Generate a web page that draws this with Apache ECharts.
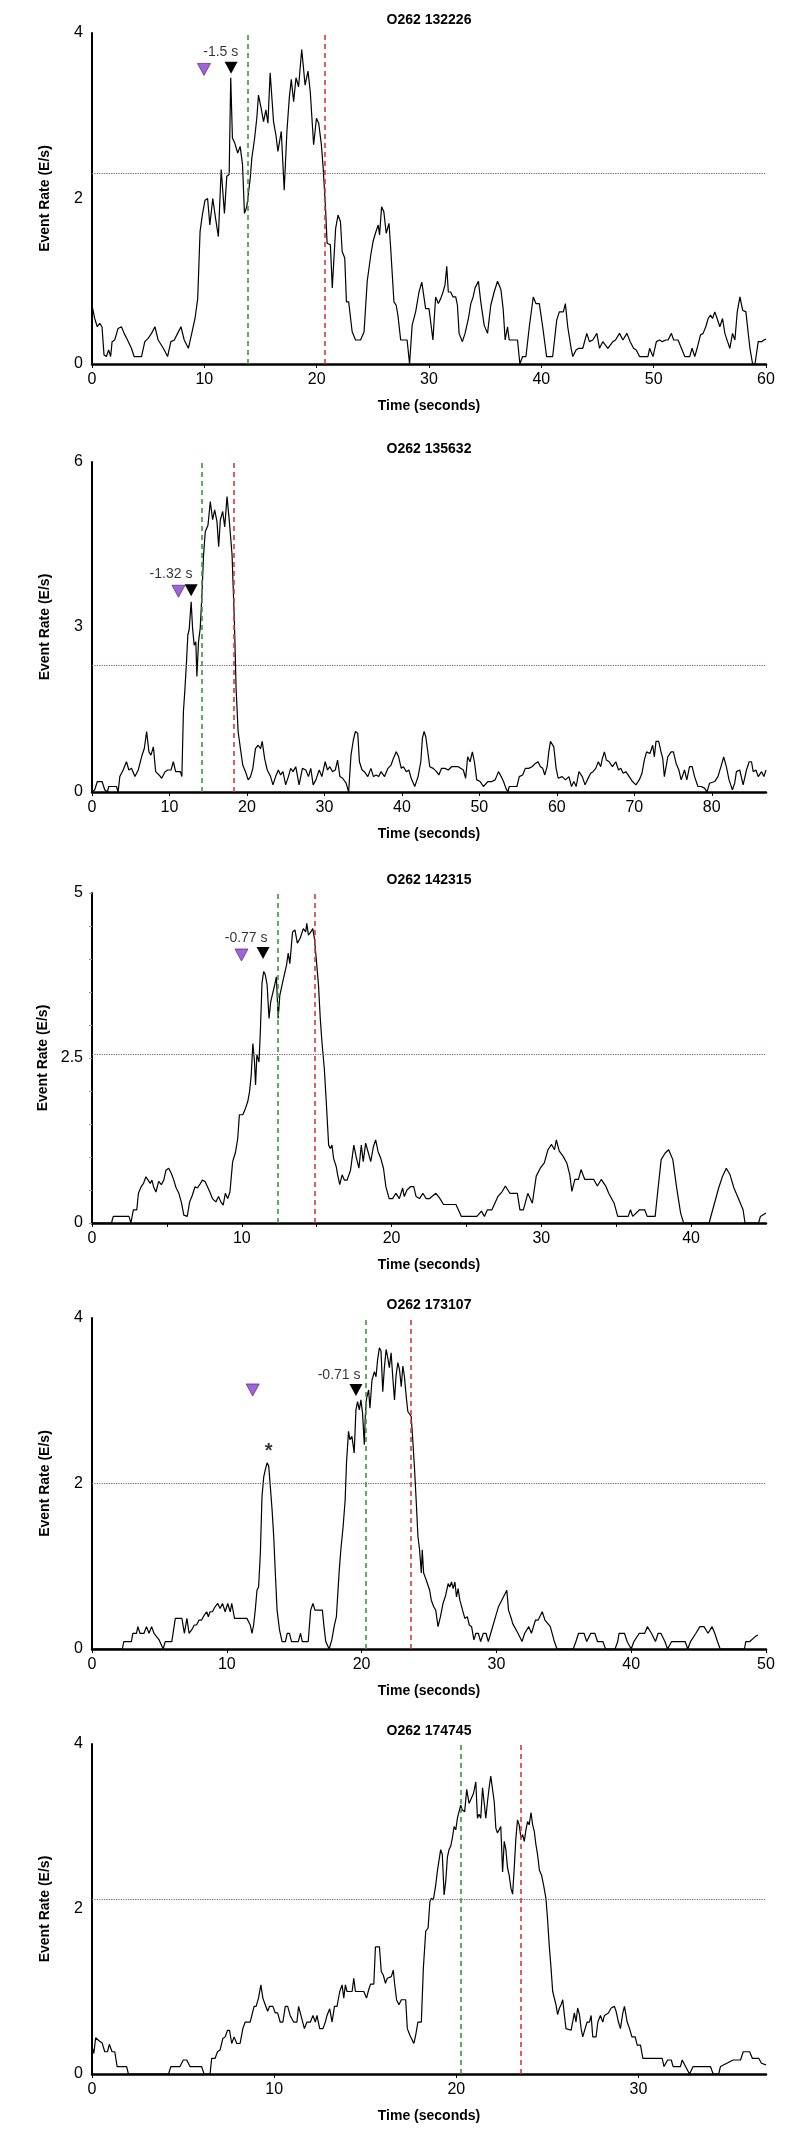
<!DOCTYPE html>
<html>
<head>
<meta charset="utf-8">
<script src="https://cdn.jsdelivr.net/npm/echarts@6/dist/echarts.min.js"></script>
<style>
html,body{margin:0;padding:0;background:#fff;}
#chart{width:796px;height:2147px;}
</style>
</head>
<body>
<div id="chart"></div>
<script>
// ---------- data ----------
const titles = ['O262 132226', 'O262 135632', 'O262 142315', 'O262 173107', 'O262 174745'];
const xMax = [60, 87, 45, 50, 37];
const yMax = [4, 6, 5, 4, 4];
const yStep = [2, 3, 2.5, 2, 2];
const thresholds = [2.3, 2.31, 2.56, 2.0, 2.12];
const greenLines = [13.9, 14.2, 12.38, 20.3, 20.25];
const redLines = [20.7, 18.35, 14.85, 23.65, 23.55];
const purpleMarks = [[9.97, 3.56], [11.16, 3.65], [9.98, 4.06], [11.92, 3.13], null];
const blackMarks = [[12.38, 3.58], [12.8, 3.67], [11.42, 4.09], [19.58, 3.13], null];
const lagLabels = [[11.46, 3.77, '-1.5 s'], [10.2, 3.96, '-1.32 s'], [10.29, 4.31, '-0.77 s'], [18.33, 3.31, '-0.71 s'], null];
const asteriskMarks = [null, null, null, [13.11, 2.39, '*'], null];

const rate132226 = [[0,0.71],[0.24,0.55],[0.47,0.45],[0.69,0.49],[0.89,0.45],[1.07,0.11],[1.28,0.09],[1.48,0.17],[1.66,0.09],[1.79,0.27],[2.02,0.29],[2.32,0.43],[2.62,0.45],[2.86,0.37],[3.16,0.29],[3.51,0.19],[3.75,0.09],[4.41,0.09],[4.7,0.27],[5.0,0.31],[5.3,0.37],[5.6,0.45],[5.89,0.29],[6.35,0.19],[6.73,0.09],[7.02,0.27],[7.33,0.29],[7.62,0.37],[7.92,0.45],[8.21,0.29],[8.58,0.19],[8.88,0.37],[9.17,0.55],[9.41,0.79],[9.62,1.6],[9.82,1.8],[10.06,1.98],[10.29,2.0],[10.49,1.68],[10.75,2.0],[11.0,1.76],[11.25,1.54],[11.5,2.35],[11.79,1.82],[12.0,2.27],[12.21,2.29],[12.35,3.46],[12.5,2.73],[12.71,2.67],[12.97,2.55],[13.19,2.63],[13.4,2.41],[13.57,1.82],[13.78,1.9],[14.09,2.25],[14.23,2.49],[14.46,2.71],[14.67,2.97],[14.82,3.25],[15.06,3.09],[15.27,2.93],[15.48,3.07],[15.66,2.91],[15.86,3.52],[16.16,2.93],[16.37,2.77],[16.55,2.57],[16.85,2.81],[17.11,2.1],[17.35,2.81],[17.56,3.21],[17.74,3.44],[17.95,3.17],[18.16,3.46],[18.39,3.35],[18.67,3.8],[18.97,3.37],[19.23,3.54],[19.43,3.29],[19.73,2.65],[19.98,2.97],[20.18,2.91],[20.42,2.65],[20.58,2.37],[20.79,1.88],[20.93,1.46],[21.22,1.44],[21.39,0.92],[21.69,1.64],[21.9,1.8],[22.12,1.72],[22.27,1.36],[22.5,1.28],[22.65,0.75],[22.85,0.75],[23.16,0.39],[23.46,0.29],[23.91,0.29],[24.22,0.39],[24.5,1.0],[24.82,1.32],[25.02,1.48],[25.23,1.58],[25.48,1.68],[25.6,1.56],[25.78,1.9],[25.98,1.84],[26.19,1.58],[26.44,1.7],[26.58,1.42],[26.88,0.75],[27.08,0.71],[27.23,0.59],[27.48,0.29],[28.05,0.29],[28.27,0],[28.5,0.47],[28.81,0.63],[29.11,0.87],[29.36,0.99],[29.7,0.67],[30.0,0.67],[30.35,0.29],[30.59,0.81],[30.83,0.73],[31.04,0.79],[31.25,0.87],[31.43,0.96],[31.58,1.18],[31.72,0.87],[31.93,0.87],[32.14,0.81],[32.38,0.81],[32.53,0.71],[32.68,0.37],[32.97,0.27],[33.21,0.37],[33.51,0.55],[33.72,0.73],[33.93,0.81],[34.1,0.92],[34.4,1.0],[34.61,0.75],[34.91,0.47],[35.21,0.37],[35.5,0.71],[35.8,0.87],[36.1,1.0],[36.4,0.9],[36.6,0.67],[36.78,0.29],[36.99,0.45],[37.14,0.29],[37.88,0.29],[38.09,0],[38.33,0.09],[38.63,0.09],[38.93,0.45],[39.28,0.81],[39.52,0.73],[39.82,0.73],[40.12,0.45],[40.47,0.09],[41.01,0.09],[41.37,0.53],[41.6,0.63],[41.96,0.63],[42.14,0.73],[42.35,0.45],[42.65,0.19],[42.8,0.09],[43.09,0.17],[43.33,0.19],[43.69,0.19],[44.05,0.37],[44.28,0.27],[44.58,0.29],[44.94,0.37],[45.18,0.19],[45.47,0.27],[45.92,0.19],[46.37,0.27],[46.6,0.29],[46.96,0.37],[47.26,0.29],[47.62,0.37],[47.91,0.27],[48.21,0.19],[48.45,0.17],[48.75,0.09],[49.49,0.09],[49.64,0.19],[49.94,0.09],[50.24,0.27],[50.53,0.29],[50.77,0.27],[51.07,0.29],[51.28,0.29],[51.58,0.37],[51.78,0.29],[52.17,0.29],[52.47,0.19],[52.77,0.09],[53.21,0.09],[53.42,0.19],[53.66,0.09],[53.87,0.19],[54.16,0.35],[54.4,0.37],[54.64,0.45],[54.85,0.55],[55.06,0.59],[55.24,0.55],[55.44,0.63],[55.65,0.55],[55.89,0.45],[56.13,0.55],[56.34,0.37],[56.58,0.27],[56.78,0.19],[57.02,0.37],[57.23,0.29],[57.44,0.63],[57.68,0.81],[57.92,0.65],[58.21,0.63],[58.42,0.37],[58.57,0.19],[58.81,0],[59.02,0],[59.31,0.27],[59.61,0.27],[59.82,0.29],[60,0.3]];

const rate135632 = [[0,0],[0.35,0.04],[0.69,0.19],[1.3,0.19],[1.64,0.04],[1.99,0],[2.16,0.1],[3.16,0.1],[3.37,0],[3.59,0.28],[4.02,0.4],[4.45,0.55],[4.76,0.4],[5.1,0.43],[5.54,0.28],[5.97,0.4],[6.4,0.64],[6.75,0.79],[7.05,1.1],[7.35,0.73],[7.61,0.67],[7.92,0.82],[8.22,0.37],[8.65,0.31],[9.0,0.25],[9.43,0.37],[9.78,0.4],[10.2,0.4],[10.5,0.55],[10.8,0.37],[11.4,0.37],[11.6,0.28],[11.8,1.46],[12.0,1.88],[12.2,2.37],[12.37,2.85],[12.54,2.95],[12.8,3.46],[12.98,2.98],[13.19,2.67],[13.4,2.73],[13.54,2.1],[13.75,2.73],[13.97,2.98],[14.19,3.58],[14.4,4.31],[14.62,4.73],[14.97,4.85],[15.27,5.28],[15.57,4.95],[15.83,5.13],[16.13,4.92],[16.35,4.46],[16.57,4.95],[16.87,5.1],[17.13,4.82],[17.43,5.37],[17.73,4.92],[18.08,4.31],[18.38,3.1],[18.6,1.88],[18.86,1.1],[19.16,0.79],[19.46,0.49],[19.81,0.37],[20.16,0.22],[20.46,0.28],[20.76,0.43],[21.1,0.79],[21.45,0.85],[21.76,0.79],[21.97,0.92],[22.28,0.61],[22.62,0.4],[23.05,0.28],[23.36,0.13],[23.7,0.28],[24.05,0.4],[24.35,0.31],[24.65,0.37],[25.0,0.13],[25.35,0.28],[25.65,0.43],[25.95,0.37],[26.3,0.46],[26.73,0.13],[27.16,0.43],[27.6,0.4],[27.94,0.28],[28.24,0.43],[28.55,0.13],[28.9,0.22],[29.33,0.4],[29.67,0.28],[30.1,0.55],[30.4,0.4],[30.7,0.46],[31.05,0.37],[31.4,0.4],[31.7,0.58],[32.0,0.28],[32.35,0.25],[32.8,0.16],[33.13,0],[33.43,0.67],[33.74,0.95],[34.0,1.1],[34.3,1.07],[34.52,0.55],[34.86,0.4],[35.16,0.37],[35.6,0.28],[36.0,0.43],[36.33,0.28],[36.68,0.31],[37.0,0.28],[37.3,0.37],[37.76,0.28],[38.2,0.43],[38.6,0.49],[38.9,0.61],[39.27,0.73],[39.58,0.64],[39.92,0.43],[40.2,0.46],[40.57,0.37],[40.9,0.4],[41.2,0.25],[41.66,0.1],[42.09,0.28],[42.44,0.55],[42.65,0.98],[42.87,1.1],[43.09,1.0],[43.3,1.0],[43.6,0.46],[44.04,0.43],[44.47,0.37],[44.77,0.31],[45.12,0.43],[45.55,0.43],[45.99,0.4],[46.42,0.46],[47.28,0.46],[47.93,0.4],[48.23,0.25],[48.49,0.64],[48.8,0.55],[49.1,0.73],[49.36,0.55],[49.66,0.22],[50.1,0.19],[50.53,0.1],[51.09,0.19],[51.61,0.19],[52.04,0.22],[52.47,0.37],[52.82,0.28],[53.12,0.19],[53.42,0.07],[53.68,0],[53.86,0.1],[54.85,0.1],[55.15,0.28],[55.59,0.31],[55.93,0.43],[56.37,0.43],[56.8,0.46],[57.23,0.52],[57.58,0.55],[57.88,0.46],[58.18,0.43],[58.44,0.31],[58.75,0.46],[58.96,0.73],[59.18,0.92],[59.61,0.82],[59.91,0.43],[60.17,0.25],[60.69,0.28],[61.12,0.22],[61.56,0.28],[61.9,0.1],[62.2,0.19],[62.5,0.1],[62.85,0.37],[63.29,0.28],[63.64,0.13],[63.93,0.22],[64.37,0.34],[64.67,0.37],[65.02,0.43],[65.36,0.55],[65.66,0.46],[65.88,0.61],[66.14,0.73],[66.4,0.58],[66.75,0.55],[67.18,0.46],[67.61,0.55],[67.96,0.4],[68.26,0.43],[68.56,0.34],[68.91,0.37],[69.34,0.28],[69.77,0.19],[70.21,0.13],[70.64,0.22],[70.99,0.34],[71.29,0.58],[71.59,0.73],[72.02,0.7],[72.37,0.85],[72.59,0.64],[72.8,0.92],[73.15,0.92],[73.45,0.73],[73.67,0.61],[73.88,0.28],[74.32,0.64],[74.75,0.73],[75.05,0.73],[75.4,0.52],[75.75,0.4],[76.05,0.22],[76.48,0.4],[76.78,0.22],[77.13,0.46],[77.47,0.46],[77.78,0.28],[78.21,0.1],[78.64,0.1],[79.07,0.07],[79.38,0],[79.72,0.16],[80.37,0.19],[80.8,0.28],[81.24,0.49],[81.54,0.64],[81.88,0.46],[82.23,0.22],[82.66,0.04],[82.96,0.16],[83.18,0.37],[83.61,0.4],[84.05,0.13],[84.48,0.4],[84.83,0.55],[85.13,0.55],[85.35,0.37],[85.7,0.4],[86.0,0.28],[86.43,0.37],[86.73,0.28],[87,0.4]];

const rate142315 = [[0,0],[1.3,0],[1.42,0.1],[2.47,0.1],[2.6,0],[2.76,0.2],[2.99,0.2],[3.1,0.45],[3.28,0.55],[3.44,0.6],[3.6,0.7],[3.73,0.73],[3.89,0.6],[4.0,0.65],[4.11,0.55],[4.27,0.47],[4.45,0.63],[4.63,0.58],[4.79,0.65],[4.94,0.8],[5.12,0.83],[5.3,0.75],[5.46,0.65],[5.62,0.53],[5.8,0.45],[5.98,0.3],[6.13,0.12],[6.36,0.1],[6.52,0.32],[6.7,0.42],[6.88,0.55],[7.03,0.53],[7.19,0.58],[7.37,0.65],[7.55,0.63],[7.71,0.55],[7.87,0.47],[8.04,0.37],[8.27,0.32],[8.45,0.4],[8.6,0.32],[8.76,0.27],[8.9,0.45],[9.06,0.37],[9.21,0.47],[9.39,0.93],[9.57,1.06],[9.73,1.28],[9.84,1.64],[10.07,1.64],[10.25,1.74],[10.4,1.84],[10.52,1.99],[10.63,2.24],[10.74,2.72],[10.85,2.44],[10.92,2.09],[11.01,2.55],[11.15,2.44],[11.24,2.9],[11.35,3.63],[11.46,3.81],[11.57,3.76],[11.69,3.61],[11.82,3.1],[11.93,3.35],[12.04,3.38],[12.2,3.61],[12.31,3.73],[12.43,3.1],[12.54,3.45],[12.65,3.48],[12.76,3.68],[12.88,3.68],[12.99,3.91],[13.1,4.09],[13.21,3.93],[13.39,4.41],[13.55,4.44],[13.71,4.24],[13.89,4.31],[14.0,4.31],[14.11,4.46],[14.27,4.41],[14.34,4.54],[14.45,4.36],[14.61,4.41],[14.74,4.46],[14.85,4.31],[14.97,4.01],[15.12,3.61],[15.24,3.1],[15.35,2.75],[15.51,2.34],[15.64,1.84],[15.8,1.18],[15.91,1.13],[16.02,1.18],[16.13,0.98],[16.31,0.85],[16.4,0.73],[16.54,0.58],[16.7,0.73],[16.85,0.65],[17.03,0.65],[17.26,0.8],[17.48,1.18],[17.66,0.98],[17.82,0.83],[17.98,1.18],[18.11,0.93],[18.27,1.21],[18.43,1.08],[18.61,0.93],[18.79,1.16],[18.94,1.26],[19.1,1.08],[19.28,0.98],[19.46,0.83],[19.62,0.55],[19.84,0.37],[20.07,0.37],[20.29,0.45],[20.52,0.37],[20.74,0.53],[20.85,0.4],[21.03,0.5],[21.26,0.55],[21.48,0.55],[21.64,0.4],[21.87,0.37],[22.09,0.45],[22.31,0.37],[22.54,0.37],[22.96,0.45],[23.2,0.38],[23.47,0.28],[24.3,0.28],[24.66,0.1],[25.7,0.1],[26.0,0.18],[26.2,0.1],[26.4,0.2],[26.7,0.2],[26.9,0.3],[27.1,0.4],[27.4,0.48],[27.6,0.56],[27.9,0.45],[28.4,0.45],[28.57,0.2],[28.8,0.2],[29.1,0.45],[29.4,0.3],[29.66,0.71],[29.93,0.83],[30.2,0.91],[30.44,1.11],[30.68,1.19],[30.88,1.11],[31.0,1.26],[31.2,1.09],[31.46,1.01],[31.7,0.91],[31.9,0.73],[32.04,0.48],[32.24,0.66],[32.48,0.66],[32.65,0.81],[32.9,0.66],[33.5,0.66],[33.74,0.56],[34.0,0.66],[34.3,0.56],[34.5,0.45],[34.86,0.3],[35.1,0.1],[35.8,0.1],[35.95,0.2],[36.1,0.1],[36.56,0.2],[36.9,0.2],[37.07,0.1],[37.6,0.1],[37.76,0.45],[38.0,0.96],[38.27,1.06],[38.5,1.11],[38.78,0.96],[39.05,0.51],[39.3,0.15],[39.5,0],[41.2,0],[41.5,0.25],[41.84,0.53],[42.1,0.71],[42.35,0.83],[42.6,0.73],[42.86,0.53],[43.2,0.35],[43.47,0.2],[43.6,0],[44.5,0],[44.63,0.1],[45,0.15]];

const rate173107 = [[0,0],[2.25,0],[2.36,0.09],[2.92,0.09],[3.03,0.19],[3.3,0.19],[3.4,0.27],[3.56,0.19],[3.86,0.19],[4.04,0.27],[4.23,0.19],[4.42,0.27],[4.6,0.19],[4.98,0.11],[5.28,0],[5.43,0.09],[5.92,0.09],[6.18,0.37],[6.67,0.37],[6.85,0.19],[7.04,0.37],[7.2,0.19],[7.39,0.23],[7.59,0.29],[7.76,0.29],[7.94,0.35],[8.13,0.35],[8.33,0.41],[8.51,0.45],[8.63,0.39],[8.76,0.45],[8.93,0.45],[9.13,0.51],[9.33,0.55],[9.5,0.49],[9.68,0.55],[9.88,0.45],[10.07,0.55],[10.25,0.45],[10.37,0.55],[10.57,0.37],[10.75,0.37],[11.49,0.37],[11.74,0.29],[11.87,0.19],[11.99,0.29],[12.11,0.47],[12.24,0.71],[12.36,0.75],[12.49,1.16],[12.61,1.84],[12.74,2.08],[12.86,2.17],[12.99,2.25],[13.11,2.21],[13.23,1.96],[13.36,1.68],[13.48,1.36],[13.61,0.88],[13.73,0.47],[13.91,0.23],[14.1,0.09],[14.35,0.09],[14.48,0.19],[14.65,0.19],[14.8,0.09],[15.3,0.09],[15.47,0.19],[15.6,0.09],[16.04,0.09],[16.22,0.47],[16.39,0.55],[16.54,0.47],[17.09,0.47],[17.21,0.27],[17.34,0.09],[17.46,0.11],[17.59,0],[17.79,0.11],[17.96,0.27],[18.13,0.39],[18.33,0.92],[18.46,1.2],[18.63,1.48],[18.78,1.8],[18.88,2.25],[19.03,2.63],[19.13,2.53],[19.28,2.57],[19.45,2.37],[19.58,2.89],[19.7,2.99],[19.83,2.89],[19.95,3.01],[20.07,2.85],[20.2,2.47],[20.27,2.81],[20.37,3.03],[20.52,3.13],[20.62,2.91],[20.77,3.25],[20.95,3.35],[21.07,3.29],[21.19,3.5],[21.32,3.64],[21.44,3.6],[21.57,3.11],[21.69,3.4],[21.82,3.62],[21.94,3.52],[22.06,3.4],[22.19,3.58],[22.31,3.29],[22.44,3.01],[22.56,3.31],[22.69,3.46],[22.81,3.38],[22.94,3.17],[23.06,3.42],[23.18,3.29],[23.31,3.05],[23.43,2.87],[23.56,2.89],[23.68,2.81],[23.81,2.49],[23.93,2.17],[24.06,1.76],[24.18,1.36],[24.3,1.2],[24.43,0.92],[24.5,1.2],[24.6,0.92],[24.8,0.83],[25.05,0.71],[25.17,0.59],[25.35,0.51],[25.5,0.47],[25.67,0.27],[25.85,0.39],[26.04,0.55],[26.24,0.65],[26.42,0.79],[26.54,0.75],[26.67,0.81],[26.79,0.73],[26.92,0.81],[27.04,0.63],[27.16,0.73],[27.29,0.59],[27.49,0.47],[27.66,0.37],[27.84,0.39],[27.99,0.29],[28.16,0.27],[28.33,0.11],[28.48,0.19],[28.66,0.19],[28.83,0.09],[29.03,0.19],[29.23,0.19],[29.4,0.09],[29.65,0.23],[29.9,0.37],[30.15,0.51],[30.4,0.59],[30.65,0.67],[30.77,0.71],[30.9,0.47],[31.14,0.35],[31.2,0.31],[31.6,0.19],[31.9,0.09],[32.1,0.19],[32.4,0.27],[32.6,0.19],[32.9,0.35],[33.1,0.35],[33.4,0.45],[33.6,0.35],[34.0,0.27],[34.3,0.09],[34.5,0],[35.7,0],[35.9,0.09],[36.1,0.19],[36.5,0.19],[36.7,0.09],[37.0,0.19],[37.3,0.19],[37.5,0.09],[37.9,0.09],[38.1,0],[38.8,0],[39.0,0.09],[39.1,0.19],[39.5,0.19],[39.7,0.09],[40.0,0],[40.2,0.09],[40.6,0.19],[41.0,0.19],[41.2,0.27],[41.5,0.19],[41.8,0.09],[42.0,0.19],[42.2,0.19],[42.5,0.09],[42.7,0],[43.0,0.09],[44.0,0.09],[44.2,0],[44.4,0.09],[44.8,0.19],[45.1,0.27],[45.4,0.27],[45.7,0.19],[46.0,0.27],[46.2,0.19],[46.4,0.09],[46.6,0],[48.4,0],[48.5,0.09],[48.8,0.09],[49.2,0.15],[49.4,0.17]];

const rate174745 = [[0,0.33],[0.1,0.25],[0.2,0.44],[0.4,0.4],[0.55,0.38],[0.7,0.27],[0.85,0.27],[0.95,0.36],[1.1,0.27],[1.25,0.27],[1.38,0.09],[1.9,0.09],[2.0,0],[4.2,0],[4.33,0.09],[4.83,0.09],[5.01,0.17],[5.2,0.17],[5.38,0.09],[6.02,0.09],[6.15,0],[6.48,0],[6.57,0.19],[6.76,0.19],[6.89,0.27],[7.03,0.29],[7.18,0.43],[7.31,0.45],[7.44,0.53],[7.55,0.53],[7.67,0.37],[7.8,0.45],[7.95,0.37],[8.13,0.37],[8.28,0.55],[8.41,0.63],[8.68,0.63],[8.9,0.82],[9.01,0.82],[9.14,0.92],[9.27,1.08],[9.38,0.92],[9.51,0.84],[9.64,0.76],[9.75,0.82],[9.93,0.82],[10.06,0.74],[10.19,0.74],[10.33,0.63],[10.48,0.63],[10.61,0.82],[10.74,0.82],[10.88,0.71],[11.07,0.63],[11.25,0.63],[11.34,0.82],[11.47,0.71],[11.66,0.55],[11.8,0.63],[11.99,0.63],[12.13,0.71],[12.26,0.63],[12.35,0.71],[12.5,0.55],[12.68,0.55],[12.81,0.63],[12.9,0.71],[13.05,0.79],[13.18,0.63],[13.31,0.82],[13.45,0.82],[13.6,1.0],[13.73,1.08],[13.82,0.92],[13.91,1.08],[14.0,1.0],[14.15,1.0],[14.28,1.0],[14.37,1.16],[14.46,1.0],[14.74,1.0],[14.92,1.0],[15.07,0.92],[15.2,1.03],[15.29,1.09],[15.47,1.09],[15.56,1.54],[15.78,1.54],[15.88,1.24],[15.99,1.2],[16.11,1.1],[16.21,1.16],[16.3,1.16],[16.43,1.18],[16.54,1.26],[16.61,1.1],[16.72,0.9],[16.85,0.84],[16.98,0.9],[17.22,0.9],[17.31,0.55],[17.45,0.47],[17.53,0.45],[17.67,0.37],[17.77,0.47],[17.89,0.63],[18.08,0.63],[18.19,1.28],[18.32,1.73],[18.45,1.77],[18.55,2.09],[18.63,2.13],[18.74,2.11],[18.87,2.29],[18.96,2.46],[19.05,2.46],[19.14,2.72],[19.23,2.66],[19.33,2.17],[19.42,2.34],[19.51,2.63],[19.6,2.72],[19.69,2.76],[19.78,2.86],[19.88,3.0],[19.97,2.96],[20.06,3.1],[20.15,3.18],[20.24,3.26],[20.33,3.2],[20.46,3.18],[20.57,3.45],[20.7,3.28],[20.79,3.28],[20.94,3.4],[21.07,3.54],[21.16,3.1],[21.25,3.15],[21.34,3.1],[21.44,3.47],[21.53,3.45],[21.62,3.1],[21.71,3.3],[21.8,3.47],[21.89,3.61],[21.99,3.62],[22.08,3.3],[22.17,2.98],[22.26,2.92],[22.35,2.94],[22.44,3.0],[22.54,2.45],[22.63,2.82],[22.72,2.72],[22.81,2.5],[22.9,2.41],[23.0,2.25],[23.09,2.18],[23.18,2.5],[23.27,2.86],[23.36,3.08],[23.45,3.02],[23.55,2.86],[23.64,2.9],[23.73,2.82],[23.82,2.96],[23.91,3.06],[24.0,3.02],[24.1,3.17],[24.19,3.02],[24.28,2.94],[24.37,2.78],[24.46,2.66],[24.56,2.47],[24.68,2.41],[24.79,2.29],[24.92,2.13],[25.01,1.87],[25.1,1.56],[25.2,1.28],[25.29,1.0],[25.38,0.98],[25.47,0.84],[25.56,0.72],[25.66,0.8],[25.75,0.84],[25.84,0.9],[25.93,0.72],[26.02,0.55],[26.11,0.53],[26.3,0.53],[26.39,0.55],[26.48,0.74],[26.57,0.63],[26.66,0.8],[26.76,0.72],[26.85,0.55],[26.94,0.45],[27.07,0.55],[27.18,0.63],[27.31,0.63],[27.4,0.71],[27.49,0.45],[27.67,0.45],[27.77,0.63],[27.91,0.71],[28.04,0.63],[28.13,0.71],[28.22,0.71],[28.35,0.74],[28.5,0.8],[28.68,0.82],[28.77,0.76],[28.9,0.63],[29.01,0.55],[29.14,0.74],[29.23,0.82],[29.38,0.63],[29.51,0.55],[29.64,0.45],[29.82,0.45],[29.93,0.35],[30.11,0.35],[30.24,0.19],[31.3,0.19],[31.4,0.09],[31.6,0.17],[31.8,0.17],[31.9,0.09],[32.3,0.09],[32.4,0.17],[32.8,0],[33.0,0.09],[33.95,0.09],[34.1,0],[34.4,0],[34.5,0.09],[35.2,0.17],[35.6,0.17],[35.75,0.27],[36.1,0.27],[36.25,0.19],[36.6,0.19],[36.75,0.13],[37,0.11]];

const rates = [rate132226, rate135632, rate142315, rate173107, rate174745];

// ---------- layout ----------
const gridTops = [33, 462, 893, 1318, 1744];
const gridBottoms = [364, 792, 1223, 1649, 2074];
const gridLeft = 92, gridWidth = 674;
const FONT = 'Liberation Sans, Arial, sans-serif';

const grids = [], xAxes = [], yAxes = [], series = [], graphics = [];
for (let i = 0; i < 5; i++) {
  const top = gridTops[i], h = gridBottoms[i] - gridTops[i];
  grids.push({left: gridLeft, top: top, width: gridWidth, height: h, containLabel: false});
  const special = (i === 2);
  xAxes.push({
    gridIndex: i, type: 'value', min: 0, max: xMax[i], interval: special ? 5 : 10,
    axisLine: {show: true, onZero: false, lineStyle: {color: '#000', width: 2.5}},
    axisTick: {show: true, length: 4, lineStyle: {color: '#000', width: 1}},
    axisLabel: {color: '#000', fontSize: 16, fontFamily: FONT, margin: 8, showMaxLabel: xMax[i] % 10 === 0,
      formatter: v => (v % 10 === 0 ? String(v) : '')},
    splitLine: {show: false},
    name: 'Time (seconds)', nameLocation: 'middle', nameGap: 35,
    nameTextStyle: {color: '#000', fontSize: 14, fontWeight: 'bold', fontFamily: FONT}
  });
  yAxes.push({
    gridIndex: i, type: 'value', min: 0, max: yMax[i], interval: special ? 0.5 : yStep[i],
    axisLine: {show: true, lineStyle: {color: '#000', width: 2}},
    axisTick: {show: special, length: 3, lineStyle: {color: '#999', width: 1}},
    axisLabel: {color: '#000', fontSize: 16, fontFamily: FONT, margin: 9,
      formatter: v => (Math.abs(v / yStep[i] - Math.round(v / yStep[i])) < 1e-6 ? String(v) : '')},
    splitLine: {show: false},
    name: 'Event Rate (E/s)', nameLocation: 'middle', nameGap: 40, nameRotate: 90,
    nameTextStyle: {color: '#000', fontSize: 14, fontWeight: 'bold', fontFamily: FONT}
  });
  series.push({
    type: 'line', xAxisIndex: i, yAxisIndex: i, data: rates[i], showSymbol: false, symbol: 'none',
    lineStyle: {color: '#000', width: 1.2}, z: 3,
    markLine: {
      silent: true, symbol: ['none', 'none'], label: {show: false}, animation: false,
      data: [
        {yAxis: thresholds[i], lineStyle: {type: 'dotted', color: '#7e5a86', width: 1.2}},
        {xAxis: greenLines[i], lineStyle: {type: [5, 4], color: '#3a9a3a', width: 1.6}},
        {xAxis: redLines[i], lineStyle: {type: [5, 4], color: '#d6393b', width: 1.6}}
      ]
    }
  });
  if (purpleMarks[i]) {
    series.push({type: 'scatter', xAxisIndex: i, yAxisIndex: i, data: [purpleMarks[i]],
      symbol: 'triangle', symbolRotate: 180, symbolSize: [13, 12], z: 5,
      itemStyle: {color: '#a263d9', borderColor: '#5e3588', borderWidth: 0.8, opacity: 1}});
  }
  if (blackMarks[i]) {
    series.push({type: 'scatter', xAxisIndex: i, yAxisIndex: i, data: [blackMarks[i]],
      symbol: 'triangle', symbolRotate: 180, symbolSize: [13, 12], z: 5,
      itemStyle: {color: '#000', opacity: 1}});
  }
  const texts = [];
  if (lagLabels[i]) texts.push({value: lagLabels[i], fs: 14, fw: 'normal'});
  if (asteriskMarks[i]) texts.push({value: asteriskMarks[i], fs: 20, fw: 'bold'});
  texts.forEach(t => {
    series.push({type: 'scatter', xAxisIndex: i, yAxisIndex: i, data: [t.value],
      symbol: 'circle', symbolSize: 1, itemStyle: {color: 'rgba(0,0,0,0)'}, z: 6,
      label: {show: true, position: 'inside', formatter: p => p.data[2], color: '#000',
        fontSize: t.fs, fontWeight: t.fw, fontFamily: FONT}});
  });
  graphics.push({type: 'text', x: gridLeft + gridWidth / 2, y: top - 13,
    style: {text: titles[i], textAlign: 'center', textVerticalAlign: 'middle',
      font: 'bold 14px ' + FONT, fill: '#000'}});
}

const chart = echarts.init(document.getElementById('chart'), null, {renderer: 'canvas'});
chart.setOption({
  animation: false,
  backgroundColor: '#fff',
  grid: grids, xAxis: xAxes, yAxis: yAxes, series: series, graphic: graphics
});
</script>
</body>
</html>
